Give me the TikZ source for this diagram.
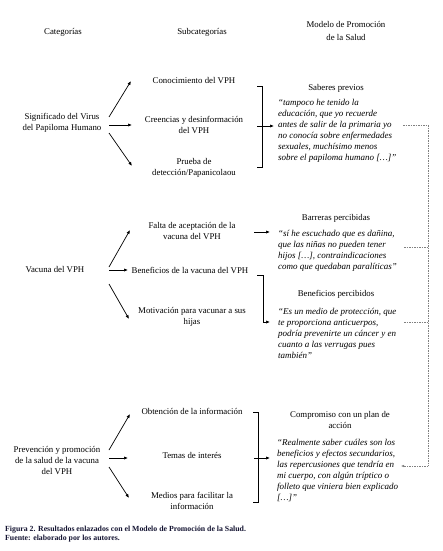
\documentclass[tikz,border=0pt]{standalone}
\usepackage{fontspec}
\setmainfont{Liberation Serif}
\usetikzlibrary{arrows.meta}
\definecolor{capcol}{RGB}{20,20,50}
\begin{document}
\begin{tikzpicture}[x=1pt,y=-1pt,
  txt/.style={font=\fontsize{8.8}{11}\selectfont, align=center, inner sep=0pt},
  quote/.style={font=\fontsize{9}{11}\selectfont\itshape, align=left, anchor=west, inner sep=0pt},
  captxt/.style={font=\fontsize{7.8}{8}\selectfont\bfseries, text=capcol, anchor=west, inner sep=0pt},
  arr/.style={-{Latex[length=4pt,width=3.2pt]}, line width=0.7pt},
  brk/.style={line width=0.8pt},
  dsh/.style={draw=gray, dash pattern=on 1.5pt off 1pt, line width=0.5pt},
]
\useasboundingbox (0,0) rectangle (442,551);
\fill[white] (0,0) rectangle (442,551);
% headers
\node[txt] (hcat) at (63,32) {Categorías};
\node[txt] (hsub) at (202,32) {Subcategorías};
\node[txt, font=\fontsize{8.8}{13}\selectfont] (hmod) at (346,31) {Modelo de Promoción\\de la Salud};

% section 1
\node[txt] (c1) at (62,123) {Significado del Virus\\del Papiloma Humano};
\node[txt] (s11) at (194,81) {Conocimiento del VPH};
\node[txt] (s12) at (194,124.5) {Creencias y desinformación\\del VPH};
\node[txt] (s13) at (194,168) {Prueba de\\detección/Papanicolaou};
\coordinate (a1s) at (109,117); \coordinate (a1e) at (131,81);
\coordinate (a2s) at (109,125); \coordinate (a2e) at (132,125);
\coordinate (a3s) at (109,133); \coordinate (a3e) at (132,166);
\draw[arr] (a1s) -- (a1e);
\draw[arr] (a2s) -- (a2e);
\draw[arr] (a3s) -- (a3e);
\coordinate (b1t) at (262,86); \coordinate (b1b) at (262,167);
\draw[brk] ([xshift=-5pt]b1t) -- (b1t) -- (b1b) -- ([xshift=-5pt]b1b);
\coordinate (b1s) at (257,126); \coordinate (b1e) at (274,126);
\draw[arr] (b1s) -- (b1e);
\node[txt] (m1) at (336,88) {Saberes previos};
\node[quote] (q1) at (278,130.5) {“tampoco he tenido la\\educación, que yo recuerde\\antes de salir de la primaria yo\\no conocía sobre enfermedades\\sexuales, muchísimo menos\\sobre el papiloma humano […]”};

% section 2
\node[txt] (c2) at (55,270) {Vacuna del VPH};
\node[txt] (s21) at (192,231.5) {Falta de aceptación de la\\vacuna del VPH};
\node[txt] (s22) at (190,270) {Beneficios de la vacuna del VPH};
\node[txt] (s23) at (192,317) {Motivación para vacunar a sus\\hijas};
\coordinate (d1s) at (109,267); \coordinate (d1e) at (130,230);
\coordinate (d2s) at (109,270); \coordinate (d2e) at (128,270);
\coordinate (d3s) at (109,284); \coordinate (d3e) at (129,319);
\draw[arr] (d1s) -- (d1e);
\draw[arr] (d2s) -- (d2e);
\draw[arr] (d3s) -- (d3e);
\coordinate (f1s) at (254,232); \coordinate (f1e) at (270,232);
\draw[arr] (f1s) -- (f1e);
\coordinate (e1s) at (257,275); \coordinate (e1m) at (263,275); \coordinate (e1e) at (270,322);
\draw[arr] (e1s) -- (e1m) |- (e1e);
\node[txt] (m2) at (336,218) {Barreras percibidas};
\node[quote] (q2) at (278,251) {“sí he escuchado que es dañina,\\que las niñas no pueden tener\\hijos […], contraindicaciones\\como que quedaban paralíticas”};
\node[txt] (m3) at (336,294) {Beneficios percibidos};
\node[quote] (q3) at (278,333) {“Es un medio de protección, que\\te proporciona anticuerpos,\\podría prevenirte un cáncer y en\\cuanto a las verrugas pues\\también”};

% section 3
\node[txt] (c3) at (57,461) {Prevención y promoción\\de la salud de la vacuna\\del VPH};
\node[txt] (s31) at (192,411) {Obtención de la información};
\node[txt] (s32) at (192,455) {Temas de interés};
\node[txt] (s33) at (192,500.5) {Medios para facilitar la\\información};
\coordinate (g1s) at (109,450); \coordinate (g1e) at (130,414);
\coordinate (g2s) at (109,458); \coordinate (g2e) at (128,458);
\coordinate (g3s) at (109,467); \coordinate (g3e) at (129,498);
\draw[arr] (g1s) -- (g1e);
\draw[arr] (g2s) -- (g2e);
\draw[arr] (g3s) -- (g3e);
\coordinate (b3t) at (258,412); \coordinate (b3b) at (258,502);
\draw[brk] ([xshift=-5pt]b3t) -- (b3t) -- (b3b) -- ([xshift=-5pt]b3b);
\coordinate (b3s) at (254,458); \coordinate (b3e) at (270,458);
\draw[arr] (b3s) -- (b3e);
\node[txt] (m4) at (340,419.5) {Compromiso con un plan de\\acción};
\node[quote] (q4) at (277,470.5) {“Realmente saber cuáles son los\\beneficios y efectos secundarios,\\las repercusiones que tendría en\\mi cuerpo, con algún tríptico o\\folleto que viniera bien explicado\\{}[…]”};

% dashed feedback
\coordinate (h1) at (403,125); \coordinate (hc) at (428,125);
\coordinate (hb) at (428,466); \coordinate (he) at (401,466);
\draw[dsh] (h1) -- (hc) -- (hb);
\draw[dsh, -{Latex[length=3pt,width=2.5pt]}] (hb) -- (he);
\coordinate (k1) at (404,247); \coordinate (k1e) at (428,247);
\coordinate (k2) at (404,322); \coordinate (k2e) at (428,322);
\draw[dsh] (k1) -- (k1e);
\draw[dsh] (k2) -- (k2e);

% caption
\node[captxt] (cap1) at (5,530) {Figura 2. Resultados enlazados con el Modelo de Promoción de la Salud.};
\node[captxt] (cap2) at (5,538.5) {Fuente: elaborado por los autores.};
\end{tikzpicture}
\end{document}
